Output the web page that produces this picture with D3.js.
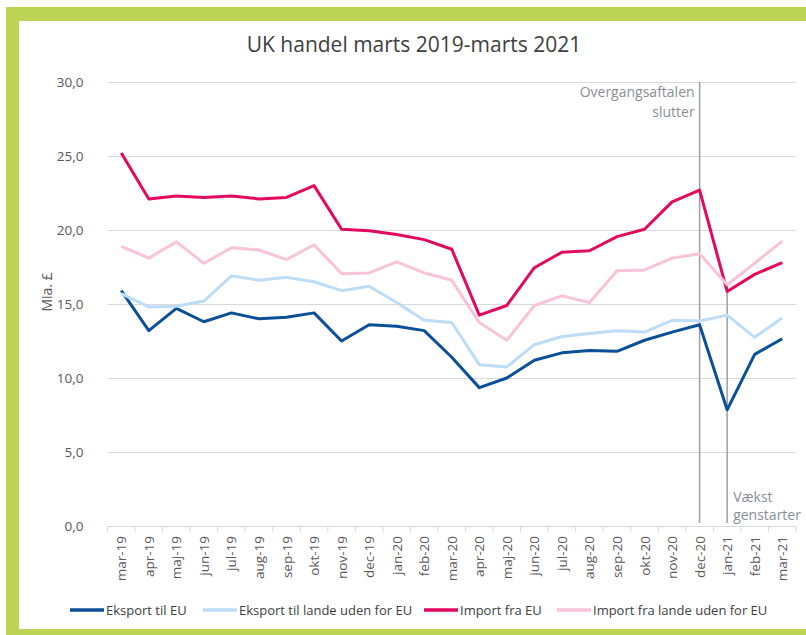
<!DOCTYPE html>
<html>
<head>
<meta charset="utf-8">
<script src="https://cdn.jsdelivr.net/npm/d3@7"></script>
<style>
  body { margin: 0; background: #fff; }
  text { font-family: 'Open Sans', sans-serif; }
</style>
</head>
<body>
<script>
// Months and series (Mia. £)
const months = ['mar-19', 'apr-19', 'maj-19', 'jun-19', 'jul-19', 'aug-19', 'sep-19', 'okt-19',
  'nov-19', 'dec-19', 'jan-20', 'feb-20', 'mar-20', 'apr-20', 'maj-20', 'jun-20', 'jul-20',
  'aug-20', 'sep-20', 'okt-20', 'nov-20', 'dec-20', 'jan-21', 'feb-21', 'mar-21'];

const eksportEU = [15.9, 13.2, 14.7, 13.8, 14.4, 14.0, 14.1, 14.4, 12.5, 13.6, 13.5, 13.2,
  11.4, 9.35, 10.0, 11.2, 11.7, 11.85, 11.8, 12.55, 13.1, 13.6, 7.85, 11.6, 12.65];
const eksportNonEU = [15.7, 14.8, 14.85, 15.2, 16.9, 16.6, 16.8, 16.5, 15.9, 16.2, 15.1, 13.9,
  13.75, 10.9, 10.75, 12.25, 12.8, 13.0, 13.2, 13.1, 13.9, 13.85, 14.25, 12.75, 14.05];
const importEU = [25.2, 22.1, 22.3, 22.2, 22.3, 22.1, 22.2, 23.0, 20.05, 19.95, 19.7, 19.35,
  18.7, 14.25, 14.9, 17.45, 18.5, 18.6, 19.55, 20.05, 21.9, 22.7, 15.85, 17.0, 17.8];
const importNonEU = [18.9, 18.1, 19.2, 17.75, 18.8, 18.65, 18.0, 19.0, 17.05, 17.1, 17.85, 17.1,
  16.6, 13.75, 12.55, 14.9, 15.55, 15.1, 17.25, 17.3, 18.1, 18.4, 16.3, 17.75, 19.25];

const yTicks = [0, 5, 10, 15, 20, 25, 30];

const series = [
  { name: 'Eksport til EU', values: eksportEU, color: '#0b4f98' },
  { name: 'Eksport til lande uden for EU', values: eksportNonEU, color: '#bcdcf8' },
  { name: 'Import fra EU', values: importEU, color: '#e3095e' },
  { name: 'Import fra lande uden for EU', values: importNonEU, color: '#f9c3d8' }
];

const markers = [
  { month: 'dec-20', from: 30, lines: ['Overgangsaftalen', 'slutter'] },
  { month: 'jan-21', from: 16.3, lines: ['Vækst', 'genstarter'] }
];

const w = 806;
const h = 635;
const green = '#bdd354';

const svg = d3.select('body').append('svg')
  .attr('width', w)
  .attr('height', h);

// Green frame
svg.append('rect').attr('x', 6).attr('y', 7).attr('width', w - 6).attr('height', 14).attr('fill', green);
svg.append('rect').attr('x', 6).attr('y', 7).attr('width', 13).attr('height', h - 7).attr('fill', green);
svg.append('rect').attr('x', 6).attr('y', 629).attr('width', w - 6).attr('height', 6).attr('fill', green);

const xScale = d3.scaleBand()
  .domain(months)
  .range([107.5, 796]);

const xMid = d => xScale(d) + xScale.bandwidth() / 2;

const yScale = d3.scaleLinear()
  .domain([0, 30])
  .range([526, 82]);

// Title
svg.append('text')
  .attr('x', 414)
  .attr('y', 52)
  .attr('text-anchor', 'middle')
  .attr('font-size', 21)
  .attr('fill', '#404040')
  .text('UK handel marts 2019-marts 2021');

// Gridlines + y labels
const yAxis = d3.axisLeft(yScale)
  .tickValues(yTicks)
  .tickSize(-(796 - 107.5))
  .tickPadding(24)
  .tickFormat(d => d3.format('.1f')(d).replace('.', ','));

svg.append('g')
  .attr('class', 'y axis')
  .attr('transform', 'translate(107.5,0)')
  .call(yAxis)
  .call(g => g.select('.domain').remove())
  .call(g => g.selectAll('.tick line').attr('stroke', '#d9d9d9'))
  .call(g => g.selectAll('.tick text')
    .attr('font-size', 13.5)
    .attr('fill', '#595959')
    .attr('font-family', "'Open Sans', sans-serif"));

svg.append('text')
  .attr('transform', 'translate(52,292) rotate(-90)')
  .attr('text-anchor', 'middle')
  .attr('font-size', 14)
  .attr('fill', '#595959')
  .text('Mia. £');

// X axis
const xAxis = d3.axisBottom(xScale).tickSize(0).tickPadding(0);

const xg = svg.append('g')
  .attr('class', 'x axis')
  .attr('transform', 'translate(0,526)')
  .call(xAxis);
xg.select('.domain').attr('stroke', '#d9d9d9');
xg.selectAll('.tick text')
  .attr('font-size', 13.5)
  .attr('fill', '#595959')
  .attr('font-family', "'Open Sans', sans-serif")
  .attr('text-anchor', 'end')
  .attr('transform', 'translate(5,10) rotate(-90)')
  .attr('dy', 0)
  .attr('x', 0)
  .attr('y', 0);

// boundary ticks
xg.selectAll('line.bnd')
  .data(months.concat(['end']))
  .enter()
  .append('line')
  .attr('class', 'bnd')
  .attr('x1', (d, i) => i < months.length ? xScale(d) : xScale.range()[1])
  .attr('x2', (d, i) => i < months.length ? xScale(d) : xScale.range()[1])
  .attr('y1', 0)
  .attr('y2', 6)
  .attr('stroke', '#d9d9d9');

// Marker lines
markers.forEach(m => {
  svg.append('line')
    .attr('x1', xMid(m.month))
    .attr('x2', xMid(m.month))
    .attr('y1', yScale(m.from))
    .attr('y2', yScale(0) - 3)
    .attr('stroke', '#9a9fa5')
    .attr('stroke-width', 1.5);
});

// Lines
const line = d3.line()
  .x((d, i) => xMid(months[i]))
  .y(d => yScale(d));

svg.append('g')
  .selectAll('path')
  .data(series)
  .enter()
  .append('path')
  .attr('d', d => line(d.values))
  .attr('fill', 'none')
  .attr('stroke', d => d.color)
  .attr('stroke-width', 3)
  .attr('stroke-linejoin', 'round');

// Marker annotations
const ann1 = svg.append('text')
  .attr('text-anchor', 'end')
  .attr('font-size', 14)
  .attr('fill', '#8a8f96');
markers[0].lines.forEach((t, i) => {
  ann1.append('tspan')
    .attr('x', xMid(markers[0].month) - 5)
    .attr('y', 97 + i * 20)
    .text(t);
});

const ann2 = svg.append('text')
  .attr('text-anchor', 'start')
  .attr('font-size', 14)
  .attr('fill', '#8a8f96');
markers[1].lines.forEach((t, i) => {
  ann2.append('tspan')
    .attr('x', xMid(markers[1].month) + 6)
    .attr('y', 502 + i * 18)
    .text(t);
});

// Legend
const legendX = [70, 203, 424, 557];
const legend = svg.append('g')
  .selectAll('g')
  .data(series)
  .enter()
  .append('g')
  .attr('transform', (d, i) => 'translate(' + legendX[i] + ',610)');

legend.append('line')
  .attr('x1', 0)
  .attr('x2', 34)
  .attr('stroke', d => d.color)
  .attr('stroke-width', 3.5);

legend.append('text')
  .attr('x', 36)
  .attr('y', 4.5)
  .attr('font-size', 13)
  .attr('fill', '#404040')
  .text(d => d.name);
</script>
</body>
</html>
